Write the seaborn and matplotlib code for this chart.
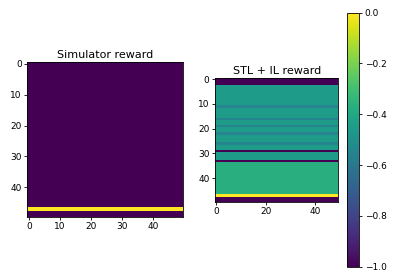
"""
Reward maps: simulator reward vs. STL + IL reward
"""
import numpy as np
import matplotlib
matplotlib.use('Agg')
import matplotlib.pyplot as plt
import seaborn as sns

N_COLS = 50

# per-row reward values (every column of a row has the same value)
sim_reward_rows = [-1.0] * 47 + [0.0] + [-1.0] * 2

stl_il_reward_rows = (
    [-1.0] * 3
    + [-0.45] * 8 + [-0.55]            # rows 3-11
    + [-0.45] * 4 + [-0.55]            # rows 12-16
    + [-0.45] * 2 + [-0.55]            # rows 17-19
    + [-0.45] * 2 + [-0.55]            # rows 20-22
    + [-0.45] * 3 + [-0.55]            # rows 23-26
    + [-0.45] * 2 + [-1.0]             # rows 27-29
    + [-0.45] * 3 + [-1.0]             # rows 30-33
    + [-0.37] * 13                     # rows 34-46
    + [0.0]
    + [-1.0] * 2
)

titles = ["Simulator reward", "STL + IL reward"]
xtick_sets = [[0, 10, 20, 30, 40], [0, 20, 40]]
ytick_vals = [0, 10, 20, 30, 40]

W, H = 401, 277
fig = plt.figure(figsize=(W / 100, H / 100), dpi=100)


def px_axes(x0, y0, x1, y1):
    return fig.add_axes([x0 / W, 1 - y1 / H, (x1 - x0) / W, (y1 - y0) / H])


ax_left = px_axes(27.3, 62.3, 182.7, 216.7)
ax_right = px_axes(215, 78.0, 338.3, 201.5)
cax = px_axes(346.7, 12.7, 359.3, 266.7)

for i, (ax, rows) in enumerate(zip([ax_left, ax_right], [sim_reward_rows, stl_il_reward_rows])):
    data = np.tile(np.array(rows)[:, None], (1, N_COLS))
    sns.heatmap(data, ax=ax, cmap="viridis", vmin=-1, vmax=0,
                cbar=(i == 1), cbar_ax=cax if i == 1 else None,
                xticklabels=False, yticklabels=False)
    ax.set_xticks(np.array(xtick_sets[i]) + 0.5)
    ax.set_xticklabels([str(t) for t in xtick_sets[i]], rotation=0)
    ax.set_yticks(np.array(ytick_vals) + 0.5)
    ax.set_yticklabels([str(t) for t in ytick_vals], rotation=0)
    ax.tick_params(labelsize=6.5, length=2.5, width=0.6, pad=1.5)
    for s in ax.spines.values():
        s.set_visible(True)
        s.set_linewidth(0.6)
    ax.set_title(titles[i], fontsize=8, pad=3)

cax.tick_params(labelsize=6.5, length=2.5, width=0.6, pad=1.5)
cax.set_yticks([0.0, -0.2, -0.4, -0.6, -0.8, -1.0])
cax.set_yticklabels(["0.0", "\u22120.2", "\u22120.4", "\u22120.6", "\u22120.8", "\u22121.0"])
cb = ax_right.collections[0].colorbar
cb.outline.set_visible(True)
cb.outline.set_linewidth(0.6)

fig.savefig("out.png", dpi=100)
